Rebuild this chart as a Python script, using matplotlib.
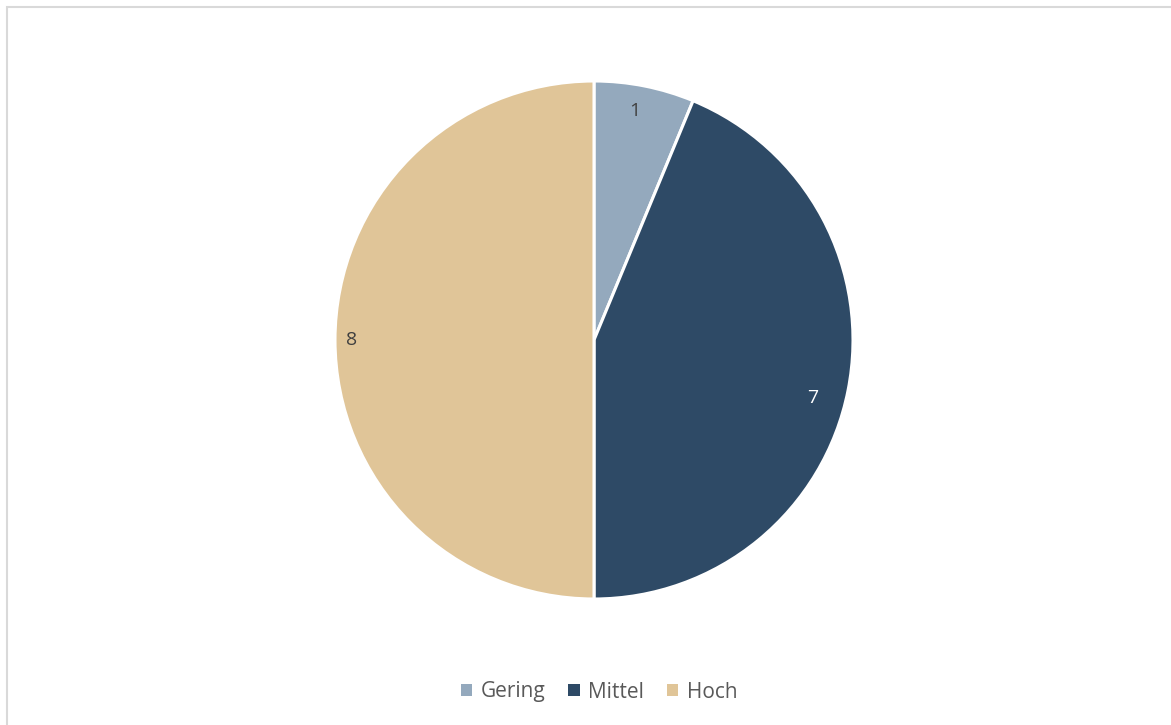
import matplotlib
matplotlib.use("Agg")
import matplotlib.pyplot as plt
from matplotlib.patches import Rectangle

categories = ["Gering", "Mittel", "Hoch"]
values = [1, 7, 8]
colors = ["#94A9BD", "#2E4A66", "#E0C598"]
label_colors = ["#404040", "#FFFFFF", "#404040"]

W, H = 1171, 725
fig = plt.figure(figsize=(W / 100, H / 100), dpi=100)
fig.patch.set_facecolor("white")
plt.rcParams["font.family"] = ["Open Sans", "DejaVu Sans"]

# chart border
fig.patches.append(Rectangle((7 / W, -0.1), 1.2, (H - 7) / H + 0.1, transform=fig.transFigure,
                             fill=False, edgecolor="#D9D9D9", linewidth=1.5, clip_on=False))

cx, cy, r = 594, 340, 259
ax = fig.add_axes([(cx - r) / W, (H - cy - r) / H, 2 * r / W, 2 * r / H])
wedges, texts = ax.pie(values, colors=colors, startangle=90, counterclock=False,
                       labels=[str(v) for v in values], labeldistance=0.9,
                       wedgeprops=dict(edgecolor="white", linewidth=2.2),
                       textprops=dict(fontsize=14))
for t, c in zip(texts, label_colors):
    t.set_color(c)
    t.set_ha("center")
    t.set_va("center")
# small adjustments to mimic Excel's best-fit placement
x, y = texts[0].get_position()
texts[0].set_position((x - 0.02, y))
x, y = texts[1].get_position()
texts[1].set_position((x - 0.04, y - 0.05))
x, y = texts[2].get_position()
texts[2].set_position((x - 0.035, y))
ax.set_xlim(-1, 1)
ax.set_ylim(-1, 1)
ax.set_aspect("equal")
ax.axis("off")

handles = [Rectangle((0, 0), 1, 1, facecolor=c, edgecolor="none") for c in colors]
leg = fig.legend(handles, categories, loc="center", bbox_to_anchor=(599 / W, 1 - 692 / H),
                 ncol=3, frameon=False, fontsize=15, handlelength=0.55, handleheight=0.55,
                 handletextpad=0.4, columnspacing=1.1)
for t in leg.get_texts():
    t.set_color("#595959")

fig.savefig("out.png", dpi=100, facecolor="white")
